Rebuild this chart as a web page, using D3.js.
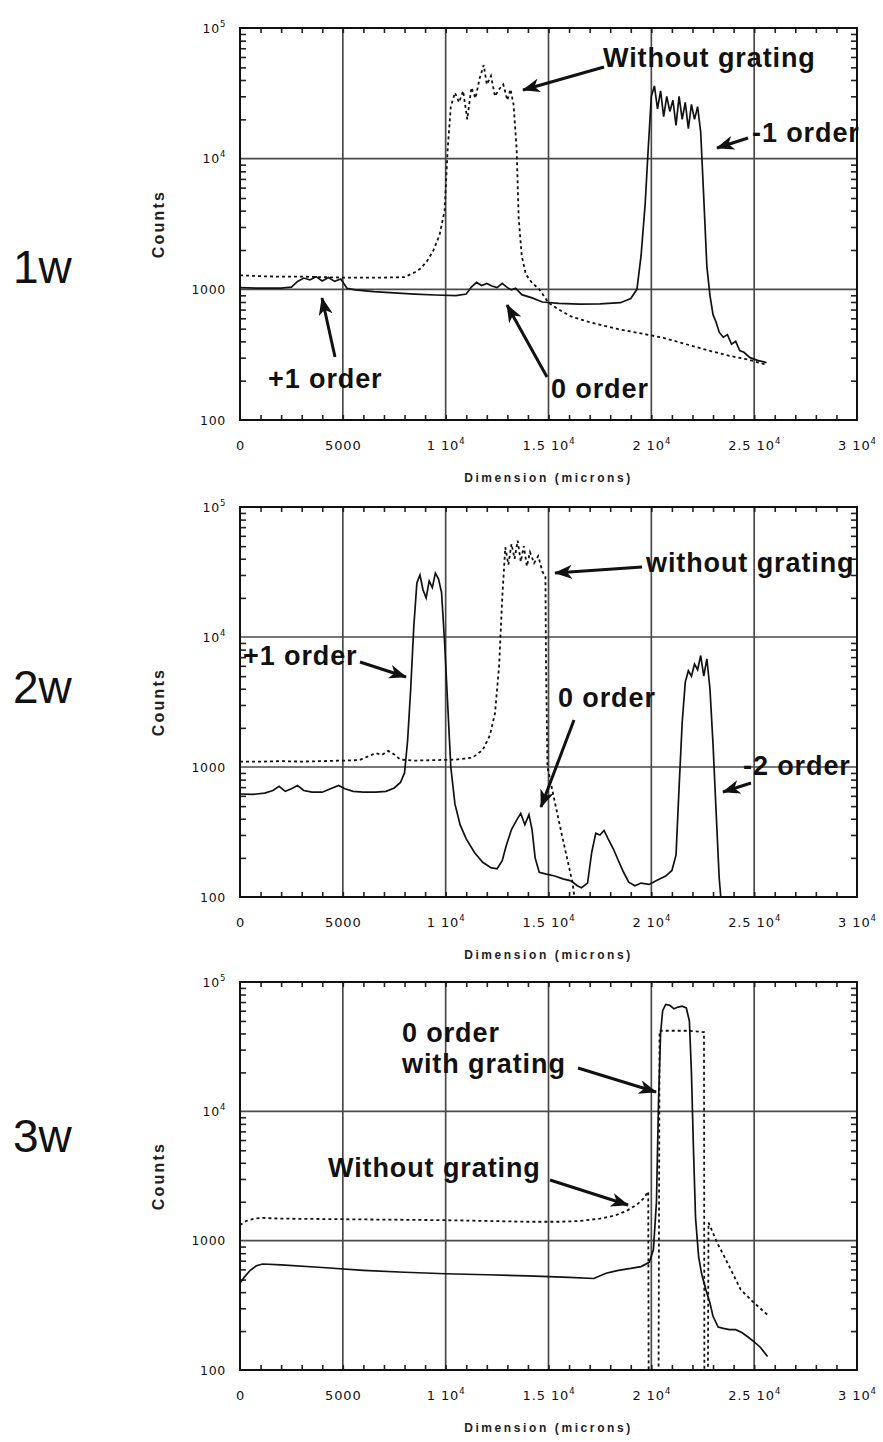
<!DOCTYPE html>
<html>
<head>
<meta charset="utf-8">
<script src="https://cdn.jsdelivr.net/npm/d3@7"></script>
<style>
  body { margin: 0; background: #fff; }
</style>
</head>
<body>
<svg id="chart" width="883" height="1442"></svg>
<script>
// axis ticks
const xTickValues = [0, 5000, 10000, 15000, 20000, 25000, 30000]
const xTickText = ['0', '5000', '1 10', '1.5 10', '2 10', '2.5 10', '3 10']
const xTickExp = ['', '', '4', '4', '4', '4', '4']
const yTickValues = [100, 1000, 1e4, 1e5]
const yTickText = ['100', '1000', '10', '10']
const yTickExp = ['', '', '4', '5']
const xGrid = [5000, 10000, 15000, 20000, 25000]
const yGrid = [1000, 1e4]
const xMinor = d3.range(1000, 30000, 1000)
const yMinor = [2, 3, 4, 5, 6, 7, 8, 9].flatMap(m => [m * 100, m * 1000, m * 10000])

// 1w : dashed = without grating, solid = with grating
const p1NoGrating = [[0,1280],[500,1270],[1000,1260],[2000,1250],[3000,1250],[4000,1240],[5000,1230],[6000,1230],[7000,1230],[8000,1240],[8500,1350],[8800,1450],[9100,1650],[9400,1980],[9700,2600],[9950,4000],[10100,12000],[10250,25000],[10450,32000],[10650,27000],[10850,33000],[11050,20000],[11250,35000],[11450,29000],[11650,41000],[11850,52000],[12000,37000],[12200,43000],[12400,30000],[12600,34000],[12800,37000],[13000,28000],[13150,34000],[13300,26000],[13450,12000],[13550,3500],[13700,1800],[13900,1300],[14200,1120],[14550,1000],[15000,790],[15500,700],[16100,620],[17000,560],[18400,495],[19500,460],[20600,425],[21700,380],[22900,336],[23800,310],[24700,290],[25600,265]]
const p1WithGrating = [[0,1030],[1000,1020],[2000,1020],[2500,1040],[2800,1150],[3100,1220],[3400,1180],[3700,1250],[4000,1160],[4300,1230],[4600,1150],[4900,1200],[5200,1020],[5600,990],[6500,960],[7500,940],[8500,920],[9500,905],[10500,895],[11000,920],[11250,1040],[11500,1130],[11750,1070],[12000,1110],[12250,1060],[12500,1030],[12750,1110],[13000,1030],[13200,990],[13400,1020],[13700,910],[14200,860],[14700,800],[15500,780],[16500,770],[17500,775],[18500,790],[19000,850],[19300,1000],[19500,1800],[19700,4500],[19850,12000],[20000,30000],[20150,36000],[20300,24000],[20450,33000],[20600,21000],[20750,30000],[20900,23000],[21050,28000],[21200,18000],[21350,30000],[21500,20000],[21650,27000],[21800,17000],[21950,26000],[22100,20000],[22250,25000],[22400,16000],[22550,5000],[22700,1500],[22850,900],[23000,640],[23150,560],[23300,470],[23500,430],[23700,450],[23900,380],[24100,400],[24300,340],[24500,330],[24800,300],[25200,285],[25600,275]]

// 2w
const p2NoGrating = [[0,1100],[1000,1100],[2000,1110],[3000,1100],[4000,1110],[5000,1120],[5800,1130],[6200,1200],[6600,1280],[6900,1240],[7200,1330],[7500,1250],[7800,1140],[8500,1120],[9500,1130],[10500,1140],[11300,1180],[11800,1350],[12150,1750],[12400,2600],[12600,6000],[12750,20000],[12900,49000],[13050,36000],[13200,52000],[13350,40000],[13500,55000],[13650,38000],[13800,50000],[13950,35000],[14100,45000],[14300,37000],[14500,42000],[14700,32000],[14850,29000],[14880,6000],[14950,1000],[15100,770],[15350,500],[15650,300],[15900,200],[16170,128],[16300,90]]
const p2WithGrating = [[0,620],[600,615],[1200,630],[1600,660],[1900,710],[2200,650],[2500,680],[2800,720],[3100,660],[3500,640],[4000,640],[4400,680],[4800,720],[5100,680],[5500,650],[6000,640],[6600,640],[7100,650],[7500,690],[7800,760],[8000,900],[8150,1600],[8300,4000],[8450,12000],[8600,26000],[8750,30000],[8900,23000],[9050,20000],[9200,27000],[9350,24000],[9500,31000],[9650,28000],[9800,22000],[9950,9000],[10100,3000],[10250,1000],[10450,520],[10700,360],[11000,280],[11400,220],[11800,185],[12200,168],[12500,165],[12750,190],[12950,250],[13200,330],[13450,390],[13650,440],[13850,360],[14050,430],[14200,330],[14350,200],[14550,155],[14900,150],[15300,145],[15700,138],[16100,133],[16400,122],[16600,118],[16900,128],[17100,220],[17300,310],[17500,300],[17700,325],[17900,280],[18150,235],[18400,190],[18650,155],[18900,130],[19200,122],[19500,128],[19900,125],[20300,135],[20700,145],[21000,160],[21200,210],[21350,700],[21500,2200],[21650,4500],[21800,5500],[21950,5000],[22100,6200],[22250,5600],[22400,7200],[22550,5000],[22700,6800],[22850,4000],[23000,1500],[23150,450],[23300,140],[23400,90]]

// 3w
const p3NoGrating = [[0,1320],[300,1420],[700,1480],[1100,1500],[2000,1480],[4000,1470],[6000,1460],[8000,1450],[10000,1440],[12000,1420],[14000,1400],[15500,1400],[16500,1420],[17500,1480],[18200,1560],[18800,1700],[19300,1900],[19600,2100],[19850,2400],[19870,80],[20350,80],[20400,42000],[21000,42000],[21800,42000],[22500,41000],[22560,41000],[22580,80],[22750,80],[22780,1380],[23200,965],[23700,675],[24350,417],[25000,330],[25650,267]]
const p3WithGrating = [[0,470],[200,520],[500,590],[800,640],[1100,660],[2000,650],[4000,620],[6000,590],[8000,570],[10000,555],[12000,545],[14000,535],[16000,520],[17200,510],[17800,560],[18400,590],[19000,610],[19500,630],[19900,680],[20100,850],[20250,2000],[20350,12000],[20450,40000],[20550,60000],[20700,67000],[20900,66000],[21100,62000],[21300,64000],[21500,65000],[21700,63000],[21850,50000],[21950,20000],[22050,5000],[22150,1500],[22300,750],[22450,550],[22650,420],[22850,330],[23000,260],[23250,215],[23500,210],[23800,205],[24100,205],[24400,195],[24700,180],[25000,165],[25300,150],[25650,127]]

const xLeft = 240
const xRight = 857
const panels = [
  { top: 28, bottom: 420, name: '1w', nameY: 283, dashed: p1NoGrating, solid: p1WithGrating },
  { top: 507, bottom: 897, name: '2w', nameY: 703, dashed: p2NoGrating, solid: p2WithGrating },
  { top: 982, bottom: 1370, name: '3w', nameY: 1152, dashed: p3NoGrating, solid: p3WithGrating },
]

// annotation texts and arrows (start -> tip)
const notes = [
  { text: 'Without grating', x: 603, y: 67, from: [604, 67], to: [523, 90] },
  { text: '-1 order', x: 752, y: 142, from: [748, 138], to: [717, 148] },
  { text: '+1 order', x: 268, y: 388, from: [335, 357], to: [322, 298] },
  { text: '0 order', x: 551, y: 398, from: [547, 377], to: [507, 305] },
  { text: 'without grating', x: 646, y: 572, from: [642, 567], to: [555, 573] },
  { text: '+1 order', x: 243, y: 665, from: [360, 662], to: [406, 677] },
  { text: '0 order', x: 558, y: 707, from: [574, 720], to: [541, 807] },
  { text: '-2 order', x: 743, y: 775, from: [751, 783], to: [723, 792] },
  { text: '0 order', x: 402, y: 1042 },
  { text: 'with grating', x: 402, y: 1073, from: [578, 1068], to: [656, 1092] },
  { text: 'Without grating', x: 328, y: 1177, from: [550, 1180], to: [628, 1205] },
]

const svg = d3.select('#chart')
svg.append('rect').attr('width', 883).attr('height', 1442).attr('fill', '#fff')
const defs = svg.append('defs')
defs
  .append('marker')
  .attr('id', 'arrow')
  .attr('viewBox', '0 0 18 14')
  .attr('refX', 17)
  .attr('refY', 7)
  .attr('markerWidth', 18)
  .attr('markerHeight', 14)
  .attr('markerUnits', 'userSpaceOnUse')
  .attr('orient', 'auto')
  .append('path')
  .attr('d', 'M0,0 L18,7 L0,14 L5,7 Z')
  .attr('fill', '#111')

const x = d3.scaleLinear().domain([0, 30000]).range([xLeft, xRight])

function addSup(sel, exps) {
  sel.selectAll('.tick text').each(function (d, i) {
    if (exps[i]) {
      d3.select(this).append('tspan').attr('dy', -6).attr('font-size', 8.5).text(exps[i])
    }
  })
}

panels.forEach((p, i) => {
  const y = d3.scaleLog().domain([100, 1e5]).range([p.bottom, p.top])
  const g = svg.append('g')

  defs
    .append('clipPath')
    .attr('id', 'clip' + i)
    .append('rect')
    .attr('x', xLeft)
    .attr('y', p.top)
    .attr('width', xRight - xLeft)
    .attr('height', p.bottom - p.top)

  // grid
  g.append('g')
    .selectAll('line')
    .data(xGrid)
    .join('line')
    .attr('x1', d => x(d))
    .attr('x2', d => x(d))
    .attr('y1', p.top)
    .attr('y2', p.bottom)
    .attr('stroke', '#4a4a4a')
    .attr('stroke-width', 1.7)
  g.append('g')
    .selectAll('line')
    .data(yGrid)
    .join('line')
    .attr('x1', xLeft)
    .attr('x2', xRight)
    .attr('y1', d => y(d))
    .attr('y2', d => y(d))
    .attr('stroke', '#4a4a4a')
    .attr('stroke-width', 1.7)

  // minor ticks, pointing inward
  const minorAxes = [
    [d3.axisBottom(x).tickValues(xMinor).tickSize(-5), `translate(0,${p.bottom})`],
    [d3.axisTop(x).tickValues(xMinor).tickSize(-5), `translate(0,${p.top})`],
    [d3.axisLeft(y).tickValues(yMinor).tickSize(-6), `translate(${xLeft},0)`],
    [d3.axisRight(y).tickValues(yMinor).tickSize(-6), `translate(${xRight},0)`],
  ]
  minorAxes.forEach(([axis, tr]) => {
    const a = g.append('g').attr('transform', tr).call(axis.tickFormat(''))
    a.select('.domain').remove()
    a.selectAll('line').attr('stroke', '#222').attr('stroke-width', 1.6)
  })

  // tick labels
  const xa = g
    .append('g')
    .attr('transform', `translate(0,${p.bottom})`)
    .call(d3.axisBottom(x).tickValues(xTickValues).tickSize(0).tickPadding(21).tickFormat((d, k) => xTickText[k]))
  xa.select('.domain').remove()
  xa.attr('font-family', 'DejaVu Sans, sans-serif').attr('font-size', 13)
  xa.selectAll('text').attr('fill', '#111').attr('letter-spacing', 0.9)
  addSup(xa, xTickExp)

  const ya = g
    .append('g')
    .attr('transform', `translate(${xLeft},0)`)
    .call(d3.axisLeft(y).tickValues(yTickValues).tickSize(0).tickPadding(14).tickFormat((d, k) => yTickText[k]))
  ya.select('.domain').remove()
  ya.attr('font-family', 'DejaVu Sans, sans-serif').attr('font-size', 12.5)
  ya.selectAll('text').attr('fill', '#111').attr('letter-spacing', 0.7)
  addSup(ya, yTickExp)

  // axis titles
  g.append('text')
    .attr('transform', `translate(164,${(p.top + p.bottom) / 2}) rotate(-90)`)
    .attr('text-anchor', 'middle')
    .attr('font-family', 'Liberation Sans, Arial, sans-serif')
    .attr('font-weight', 'bold')
    .attr('font-size', 16)
    .attr('letter-spacing', 2.2)
    .attr('fill', '#222')
    .text('Counts')
  g.append('text')
    .attr('x', (xLeft + xRight) / 2)
    .attr('y', p.bottom + 62)
    .attr('text-anchor', 'middle')
    .attr('font-family', 'Liberation Sans, Arial, sans-serif')
    .attr('font-weight', 'bold')
    .attr('font-size', 12)
    .attr('letter-spacing', 2.6)
    .attr('fill', '#222')
    .text('Dimension  (microns)')

  // data lines
  const line = d3
    .line()
    .x(d => x(d[0]))
    .y(d => y(d[1]))
  const lines = g.append('g').attr('clip-path', `url(#clip${i})`)
  lines
    .append('path')
    .datum(p.dashed)
    .attr('d', line)
    .attr('fill', 'none')
    .attr('stroke', '#111')
    .attr('stroke-width', 1.8)
    .attr('stroke-dasharray', '3,3')
  lines
    .append('path')
    .datum(p.solid)
    .attr('d', line)
    .attr('fill', 'none')
    .attr('stroke', '#111')
    .attr('stroke-width', 1.7)

  // frame
  g.append('rect')
    .attr('x', xLeft)
    .attr('y', p.top)
    .attr('width', xRight - xLeft)
    .attr('height', p.bottom - p.top)
    .attr('fill', 'none')
    .attr('stroke', '#111')
    .attr('stroke-width', 2)

  // panel name
  svg.append('text')
    .attr('x', 13)
    .attr('y', p.nameY)
    .attr('font-family', 'Liberation Sans, Arial, sans-serif')
    .attr('font-size', 46)
    .attr('fill', '#111')
    .text(p.name)
})

// annotations
const ann = svg.append('g')
ann
  .selectAll('text')
  .data(notes)
  .join('text')
  .attr('x', d => d.x)
  .attr('y', d => d.y)
  .attr('font-family', 'Liberation Sans, Arial, sans-serif')
  .attr('font-weight', 'bold')
  .attr('font-size', 27)
  .attr('letter-spacing', 0.9)
  .attr('fill', '#111')
  .text(d => d.text)
ann
  .selectAll('line')
  .data(notes.filter(d => d.from))
  .join('line')
  .attr('x1', d => d.from[0])
  .attr('y1', d => d.from[1])
  .attr('x2', d => d.to[0])
  .attr('y2', d => d.to[1])
  .attr('stroke', '#111')
  .attr('stroke-width', 3)
  .attr('marker-end', 'url(#arrow)')
</script>
</body>
</html>
